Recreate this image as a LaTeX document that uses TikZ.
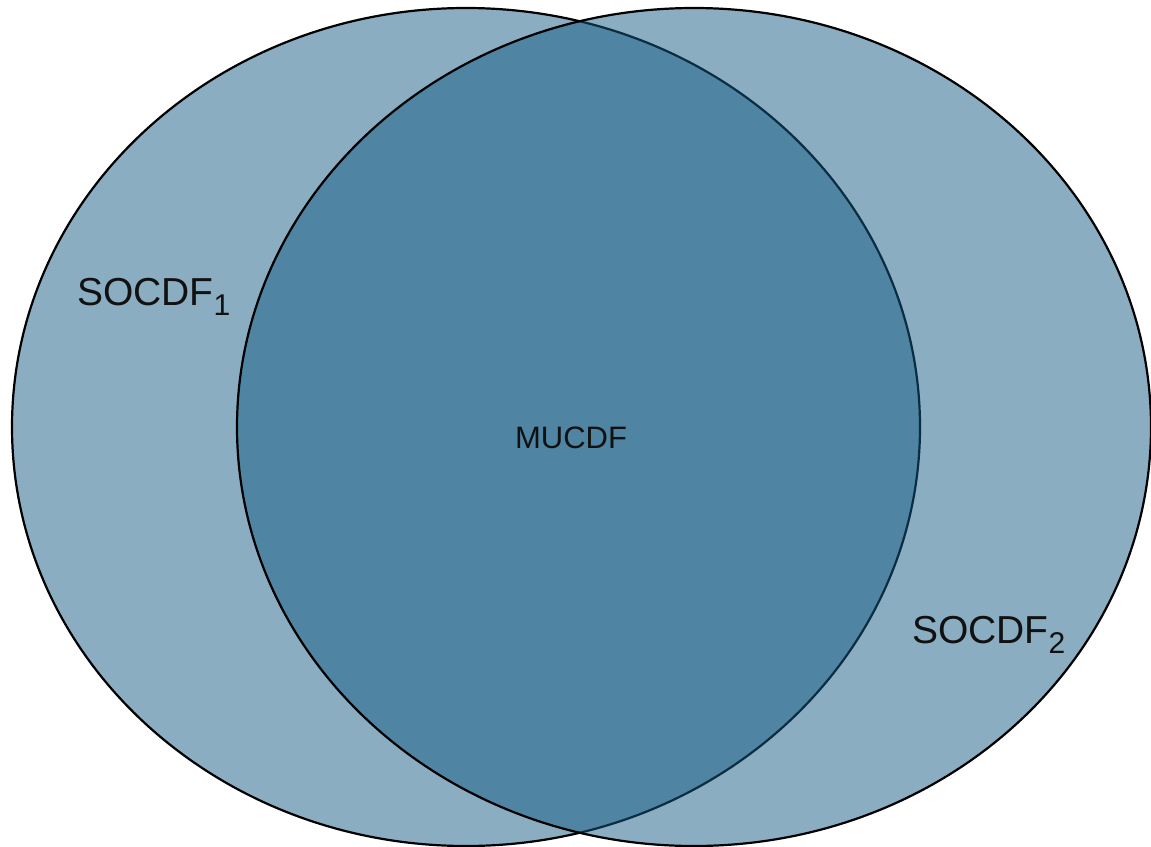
\documentclass[tikz,border=0pt]{standalone}
\usepackage{fontspec}
\setmainfont{Liberation Sans}
\definecolor{setblue}{RGB}{21,91,131}
\definecolor{txt}{RGB}{17,17,17}
\begin{document}
\begin{tikzpicture}[x=1pt,y=-1pt,
  setshape/.style={fill=setblue,fill opacity=0.5,draw=black,line width=2.2pt},
  biglabel/.style={anchor=base west,inner sep=0pt,text=txt,font=\fontsize{39}{41}\selectfont},
  midlabel/.style={anchor=base,inner sep=0pt,text=txt,font=\fontsize{31}{33}\selectfont}]
\useasboundingbox (0,0) rectangle (1151,846);
\draw[setshape] (466,427) ellipse [x radius=454, y radius=419];
\draw[setshape] (694,427) ellipse [x radius=457, y radius=419];
\node[biglabel] (s1) at (77,305) {SOCDF\raisebox{-10pt}{\fontsize{30}{32}\selectfont 1}};
\node[biglabel] (s2) at (912,643) {SOCDF\raisebox{-10pt}{\fontsize{30}{32}\selectfont 2}};
\node[midlabel] (mu) at (571,448) {MUCDF};
\end{tikzpicture}
\end{document}
